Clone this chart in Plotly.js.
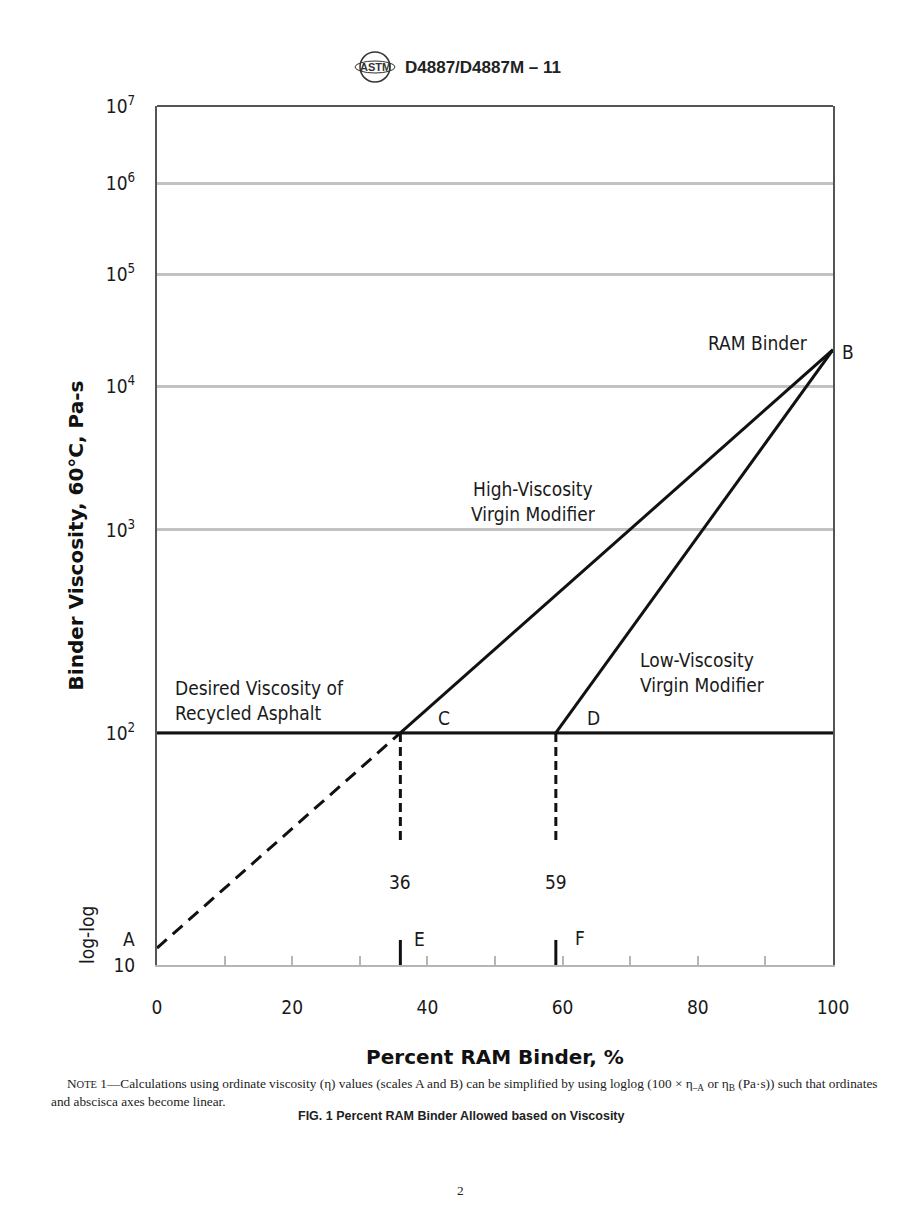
<!DOCTYPE html>
<html>
<head>
<meta charset="utf-8">
<script src="https://cdn.plot.ly/plotly-3.0.1.min.js"></script>
<style>
  body { margin: 0; background: #fff; }
  #chart { width: 920px; height: 1232px; }
</style>
</head>
<body>
<div id="chart"></div>
<script>
// viscosity in Pa-s, abscissa in percent RAM binder
const pctDesired = [0, 100];
const viscDesired = [100, 100];
const pctHigh = [36, 100]; // C -> B
const viscHigh = [100, 20000];
const pctLow = [59, 100]; // D -> B
const viscLow = [100, 20000];
const pctExtension = [0, 36]; // A -> C
const viscExtension = [20, 100];
const pctLimits = [36, 59];
const viscLimitDrop = [100, 40];
const viscScaleMark = [18.1, 21]; // E and F marks
const viscAxisBottom = 18.1;
const viscTicks = [1e2, 1e3, 1e4, 1e5, 1e6, 1e7];
const viscTickText = ["10<sup>2</sup>", "10<sup>3</sup>", "10<sup>4</sup>", "10<sup>5</sup>", "10<sup>6</sup>", "10<sup>7</sup>"];
const pctTicks = [0, 20, 40, 60, 80, 100];

const loglog = (v) => Math.log10(Math.log10(v));

// plot box in pixels
const L = 157, R = 833, T = 106, B = 965;
const px = (x, y) => ({ x: (x - L) / (R - L), y: (B - y) / (B - T) });

const FONT = "DejaVu Sans Condensed, DejaVu Sans, sans-serif";
const INK = "#1a1a1a";

function segments(xs, ys) {
  const x = [], y = [];
  xs.forEach((p) => {
    x.push(p, p, null);
    y.push(loglog(ys[0]), loglog(ys[1]), null);
  });
  return { x, y };
}

function line(x, y, dash) {
  return {
    x: x,
    y: y,
    type: "scatter",
    mode: "lines",
    line: { color: "#111", width: 3, dash: dash || "solid" },
    hoverinfo: "skip",
    showlegend: false,
    connectgaps: false,
  };
}

const drop = segments(pctLimits, viscLimitDrop);
const marks = segments(pctLimits, viscScaleMark);

const data = [
  line(pctDesired, viscDesired.map(loglog)),
  line(pctHigh, viscHigh.map(loglog)),
  line(pctLow, viscLow.map(loglog)),
  line(pctExtension, viscExtension.map(loglog), "13px,8px"),
  line(drop.x, drop.y, "9px,5px"),
  line(marks.x, marks.y),
];

function label(text, x, y, opts) {
  const p = px(x, y);
  return Object.assign(
    {
      text: text,
      x: p.x,
      y: p.y,
      xref: "paper",
      yref: "paper",
      showarrow: false,
      xanchor: "center",
      yanchor: "middle",
      font: { family: FONT, size: 19, color: INK },
    },
    opts || {}
  );
}

const serif = { family: "Liberation Serif, serif", size: 13.3, color: "#222" };

const annotations = [
  label("RAM Binder", 758, 343),
  label("B", 848, 352),
  label("High-Viscosity<br>Virgin Modifier", 533, 501),
  label("Low-Viscosity<br>Virgin Modifier", 638, 672, { xanchor: "left", align: "left" }),
  label("Desired Viscosity of<br>Recycled Asphalt", 173, 700, { xanchor: "left", align: "left" }),
  label("C", 444, 718),
  label("D", 593, 718),
  label("36", 400, 882),
  label("59", 556, 882),
  label("A", 129, 939),
  label("E", 419, 939),
  label("F", 580, 938),
  label("log-log", 87, 935, { textangle: -90 }),
  label("D4887/D4887M – 11", 483, 67, {
    font: { family: "Liberation Sans, Arial, sans-serif", size: 17, color: "#222", weight: "bold" },
  }),
  label("ASTM", 375, 67, {
    font: { family: "Liberation Sans Narrow, Liberation Sans, sans-serif", size: 11, color: "#333", weight: "bold" },
  }),
  label(
    'N<span style="font-size:10.5px">OTE</span> 1—Calculations using ordinate viscosity (η) values (scales A and B) can be simplified by using loglog (100 × η<sub>–A</sub> or η<sub>B</sub> (Pa·s)) such that ordinates',
    65, 1084,
    { xanchor: "left", font: serif }
  ),
  label("and abscisca axes become linear.", 49, 1101, { xanchor: "left", font: serif }),
  label("FIG. 1 Percent RAM Binder Allowed based on Viscosity", 461, 1116, {
    font: { family: "Liberation Sans, Arial, sans-serif", size: 12.5, color: "#222", weight: "bold" },
  }),
  label("2", 460, 1190, { font: serif }),
];

const logo = px(375, 67);
const shapes = [
  // top frame line at 10^7
  { type: "line", xref: "paper", yref: "paper", x0: 0, x1: 1, y0: 1, y1: 1, line: { color: "#555", width: 2 } },
  // ASTM mark
  {
    type: "circle", xref: "paper", yref: "paper",
    x0: logo.x - 15 / 676, x1: logo.x + 15 / 676, y0: logo.y - 15 / 859, y1: logo.y + 15 / 859,
    line: { color: "#333", width: 1.5 },
  },
  {
    type: "circle", xref: "paper", yref: "paper",
    x0: logo.x - 20 / 676, x1: logo.x + 20 / 676, y0: logo.y - 6 / 859, y1: logo.y + 6 / 859,
    line: { color: "#333", width: 1 },
  },
];

const layout = {
  width: 920,
  height: 1232,
  margin: { l: L, r: 920 - R, t: T, b: 1232 - B },
  paper_bgcolor: "#fff",
  plot_bgcolor: "#fff",
  showlegend: false,
  font: { family: FONT, color: INK },
  xaxis: {
    range: [0, 100],
    tickvals: pctTicks,
    ticks: "inside",
    ticklen: 9,
    tickwidth: 2,
    tickcolor: "#b5b5b5",
    minor: { dtick: 10, tick0: 0, ticks: "inside", ticklen: 9, tickwidth: 2, tickcolor: "#b5b5b5", showgrid: false },
    showgrid: false,
    zeroline: false,
    showline: true,
    linecolor: "#b5b5b5",
    linewidth: 2,
    ticklabelstandoff: 24,
    tickfont: { family: FONT, size: 19, color: INK },
    title: {
      text: "Percent RAM Binder, %",
      font: { family: "DejaVu Sans, sans-serif", size: 20, color: "#111", weight: "bold" },
      standoff: 33,
    },
  },
  yaxis: {
    range: [loglog(viscAxisBottom), loglog(1e7)],
    tickvals: [loglog(viscAxisBottom)].concat(viscTicks.map(loglog)),
    ticktext: ["10"].concat(viscTickText),
    ticks: "",
    showgrid: true,
    gridcolor: "#c2c2c2",
    gridwidth: 3,
    zeroline: false,
    showline: true,
    mirror: true,
    linecolor: "#555",
    linewidth: 2,
    ticklabelstandoff: 16,
    tickfont: { family: FONT, size: 19, color: INK },
    title: {
      text: "Binder Viscosity, 60°C, Pa-s",
      font: { family: "DejaVu Sans, sans-serif", size: 20, color: "#111", weight: "bold" },
      standoff: 17,
    },
  },
  annotations: annotations,
  shapes: shapes,
};

Plotly.newPlot("chart", data, layout, { staticPlot: true });
</script>
</body>
</html>
